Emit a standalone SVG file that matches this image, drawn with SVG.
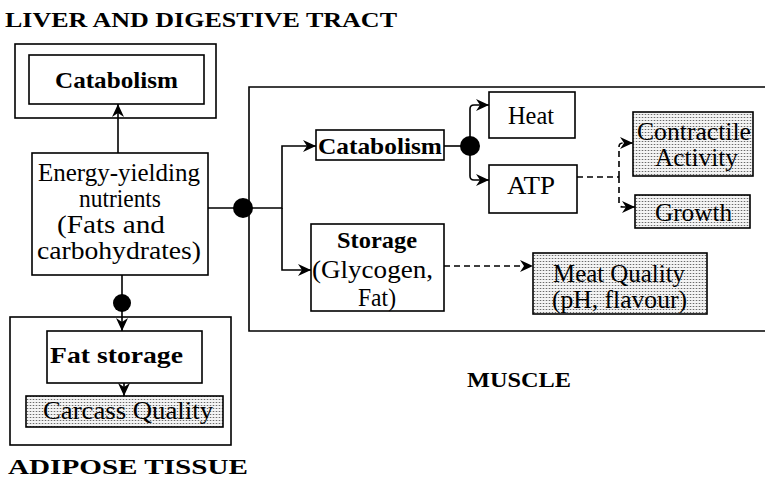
<svg xmlns="http://www.w3.org/2000/svg" width="765" height="480" viewBox="0 0 765 480">
<style>
text{font-family:"Liberation Serif","Times New Roman",serif;fill:#000;}
.t{font-size:21px;font-weight:bold;}
.n{font-size:25px;}
.b{font-size:24px;font-weight:bold;}
.box{fill:#fff;stroke:#000;stroke-width:1.6;}
.shade{fill:url(#dots);stroke:#000;stroke-width:1.6;}
.frame{fill:none;stroke:#000;stroke-width:1.6;}
.c{fill:none;stroke:#000;stroke-width:1.6;}
.d{fill:none;stroke:#000;stroke-width:1.6;stroke-dasharray:6 4;}
</style>
<defs>
<pattern id="dots" width="3" height="3" patternUnits="userSpaceOnUse">
<rect width="3" height="3" fill="#f4f4f4"/>
<rect width="1" height="1" fill="#6a6a6a"/>
<rect x="1.5" y="0" width="1" height="1" fill="#b0b0b0"/>
</pattern>
<marker id="ah" markerWidth="14" markerHeight="12" refX="13" refY="6" orient="auto" markerUnits="userSpaceOnUse">
<path d="M0,0 L13,6 L0,12 L4,6 z" fill="#000"/>
</marker>
</defs>
<rect width="765" height="480" fill="#fff"/>

<g id="frames">
<rect class="frame" x="15" y="44" width="201" height="74"/>
<path class="frame" d="M770,87 H249 V331 H770"/>
<rect class="frame" x="10" y="317" width="221" height="128"/>
</g>

<g id="labels">
<text class="t" x="5" y="27" textLength="392" lengthAdjust="spacingAndGlyphs">LIVER AND DIGESTIVE TRACT</text>
<text class="t" x="467" y="387" textLength="104" lengthAdjust="spacingAndGlyphs">MUSCLE</text>
<text class="t" x="8" y="474" textLength="240" lengthAdjust="spacingAndGlyphs">ADIPOSE TISSUE</text>
</g>

<g id="connectors">
<line class="c" x1="118" y1="153" x2="118" y2="104" marker-end="url(#ah)"/>
<path class="c" d="M208,208 H282 V146 H316" marker-end="url(#ah)"/>
<path class="c" d="M282,208 V270 H311" marker-end="url(#ah)"/>
<path class="c" d="M444,146 H470"/>
<path class="c" d="M470,146 V109 Q470,105 474,105 H489" marker-end="url(#ah)"/>
<path class="c" d="M470,146 V176 Q470,180 474,180 H489" marker-end="url(#ah)"/>
<path class="d" d="M577,177 H619"/>
<path class="d" d="M619,177 V147 Q619,143 623,143 H633" marker-end="url(#ah)"/>
<path class="d" d="M619,177 V203 Q619,207 623,207 H635" marker-end="url(#ah)"/>
<path class="d" d="M444,266 H533" marker-end="url(#ah)"/>
<line class="c" x1="122" y1="275" x2="122" y2="331" marker-end="url(#ah)"/>
<line class="c" x1="124" y1="383" x2="124" y2="396" marker-end="url(#ah)"/>
<circle cx="243" cy="208" r="10" fill="#000"/>
<circle cx="470" cy="146" r="10" fill="#000"/>
<circle cx="122" cy="303" r="9" fill="#000"/>
</g>

<g id="liver-catabolism">
<rect class="box" x="29" y="55" width="175" height="49"/>
<text class="b" x="55" y="88" textLength="123" lengthAdjust="spacingAndGlyphs">Catabolism</text>
</g>

<g id="energy">
<rect class="box" x="32" y="153" width="176" height="122"/>
<text class="n" x="38" y="181" textLength="162" lengthAdjust="spacingAndGlyphs">Energy-yielding</text>
<text class="n" x="79" y="207" textLength="82" lengthAdjust="spacingAndGlyphs">nutrients</text>
<text class="n" x="57" y="233" textLength="108" lengthAdjust="spacingAndGlyphs">(Fats and</text>
<text class="n" x="37" y="259" textLength="164" lengthAdjust="spacingAndGlyphs">carbohydrates)</text>
</g>

<g id="muscle-catabolism">
<rect class="box" x="316" y="130" width="128" height="30"/>
<text class="b" x="318" y="154" textLength="124" lengthAdjust="spacingAndGlyphs">Catabolism</text>
</g>

<g id="heat">
<rect class="box" x="489" y="92" width="86" height="46"/>
<text class="n" x="508" y="124" textLength="46" lengthAdjust="spacingAndGlyphs">Heat</text>
</g>

<g id="atp">
<rect class="box" x="489" y="165" width="88" height="48"/>
<text class="n" x="507" y="194" textLength="48" lengthAdjust="spacingAndGlyphs">ATP</text>
</g>

<g id="contractile">
<rect class="shade" x="633" y="112" width="120" height="64"/>
<text class="n" x="637" y="140" textLength="114" lengthAdjust="spacingAndGlyphs">Contractile</text>
<text class="n" x="655" y="166" textLength="83" lengthAdjust="spacingAndGlyphs">Activity</text>
</g>

<g id="growth">
<rect class="shade" x="635" y="195" width="115" height="33"/>
<text class="n" x="655" y="221" textLength="77" lengthAdjust="spacingAndGlyphs">Growth</text>
</g>

<g id="storage">
<rect class="box" x="311" y="224" width="133" height="87"/>
<text class="b" x="337" y="248" textLength="80" lengthAdjust="spacingAndGlyphs">Storage</text>
<text class="n" x="312" y="278" textLength="121" lengthAdjust="spacingAndGlyphs">(Glycogen,</text>
<text class="n" x="358" y="306" textLength="38" lengthAdjust="spacingAndGlyphs">Fat)</text>
</g>

<g id="meat-quality">
<rect class="shade" x="533" y="253" width="174" height="61"/>
<text class="n" x="553" y="282" textLength="132" lengthAdjust="spacingAndGlyphs">Meat Quality</text>
<text class="n" x="552" y="308" textLength="135" lengthAdjust="spacingAndGlyphs">(pH, flavour)</text>
</g>

<g id="fat-storage">
<rect class="box" x="47" y="331" width="155" height="52"/>
<text class="b" x="50" y="363" textLength="133" lengthAdjust="spacingAndGlyphs">Fat storage</text>
</g>

<g id="carcass-quality">
<rect class="shade" x="26" y="396" width="197" height="31"/>
<text class="n" x="43" y="419" textLength="170" lengthAdjust="spacingAndGlyphs">Carcass Quality</text>
</g>
</svg>
